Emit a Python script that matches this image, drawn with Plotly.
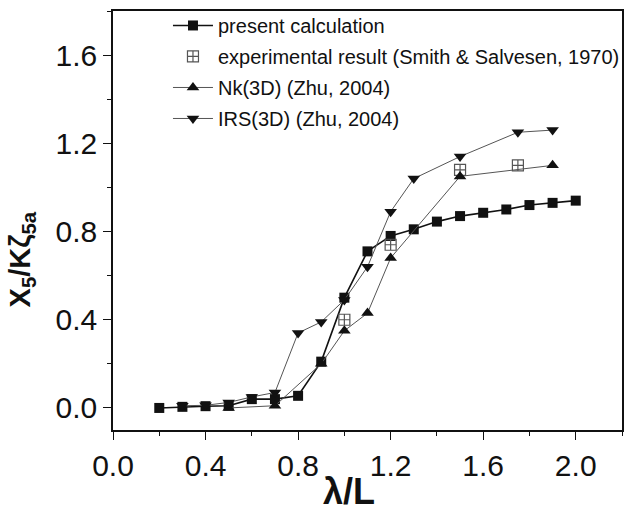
import plotly.graph_objects as go

# ---- data ----
present_x = [0.2, 0.3, 0.4, 0.5, 0.6, 0.7, 0.8, 0.9, 1.0, 1.1, 1.2, 1.3, 1.4, 1.5, 1.6, 1.7, 1.8, 1.9, 2.0]
present_y = [0.0, 0.005, 0.008, 0.01, 0.04, 0.04, 0.055, 0.21, 0.50, 0.71, 0.78, 0.81, 0.845, 0.87, 0.885, 0.90, 0.92, 0.93, 0.94]

exp_x = [1.0, 1.2, 1.5, 1.75]
exp_y = [0.40, 0.74, 1.08, 1.10]

nk_x = [0.5, 0.7, 0.9, 1.0, 1.1, 1.2, 1.5, 1.9]
nk_y = [0.0, 0.01, 0.20, 0.35, 0.43, 0.68, 1.05, 1.10]

irs_x = [0.3, 0.4, 0.5, 0.6, 0.7, 0.8, 0.9, 1.0, 1.1, 1.2, 1.3, 1.5, 1.75, 1.9]
irs_y = [0.01, 0.012, 0.025, 0.05, 0.07, 0.34, 0.39, 0.49, 0.64, 0.89, 1.04, 1.14, 1.25, 1.26]

x_ticks = [0.0, 0.4, 0.8, 1.2, 1.6, 2.0]
y_ticks = [0.0, 0.4, 0.8, 1.2, 1.6]

FONT = "Liberation Sans, Arial, sans-serif"
INK = "#111111"

fig = go.Figure()
fig.add_trace(go.Scatter(x=present_x, y=present_y, mode="lines+markers",
                         name="present calculation", legendgroup="a",
                         line=dict(color=INK, width=1.6),
                         marker=dict(symbol="square", size=10, color=INK)))
fig.add_trace(go.Scatter(x=exp_x, y=exp_y, mode="markers",
                         name="experimental result (Smith & Salvesen, 1970)", legendgroup="b",
                         marker=dict(symbol="square-cross-open", size=11, color="#555555",
                                     line=dict(width=1.2))))
fig.add_trace(go.Scatter(x=nk_x, y=nk_y, mode="lines+markers",
                         name="Nk(3D) (Zhu, 2004)", legendgroup="c",
                         line=dict(color="#555555", width=1),
                         marker=dict(symbol="triangle-up", size=11, color=INK)))
fig.add_trace(go.Scatter(x=irs_x, y=irs_y, mode="lines+markers",
                         name="IRS(3D) (Zhu, 2004)", legendgroup="d",
                         line=dict(color="#555555", width=1),
                         marker=dict(symbol="triangle-down", size=11, color=INK)))

axis_common = dict(showgrid=False, zeroline=False, showline=True, linecolor=INK,
                   linewidth=1.5, mirror=True, ticks="outside", ticklen=8, tickwidth=1.2,
                   tickcolor=INK, tickfont=dict(family=FONT, size=30, color=INK))

fig.update_xaxes(range=[0, 2.2], tickvals=x_ticks, ticktext=[f"{v:.1f}" for v in x_ticks],
                 minor=dict(ticks="outside", ticklen=4, dtick=0.2, tick0=0, tickcolor=INK),
                 **axis_common)
fig.update_yaxes(range=[-0.1, 1.8], tickvals=y_ticks, ticktext=[f"{v:.1f}" for v in y_ticks],
                 minor=dict(ticks="outside", ticklen=4, dtick=0.2, tick0=0, tickcolor=INK),
                 **axis_common)

# axis titles as annotations for precise placement
fig.add_annotation(text="<b>λ/L</b>", xref="paper", yref="paper", x=0.463, y=-0.146,
                   xanchor="center", yanchor="middle", showarrow=False,
                   font=dict(family=FONT, size=36, color=INK))
fig.add_annotation(text="<b>X<sub>5</sub>/Kζ<sub>5a</sub></b>", xref="paper", yref="paper",
                   x=-0.178, y=0.408, xanchor="center", yanchor="middle", showarrow=False,
                   textangle=-90, font=dict(family=FONT, size=29, color=INK))

fig.update_layout(
    width=631, height=511,
    margin=dict(l=113, r=8, t=6, b=81),
    paper_bgcolor="white", plot_bgcolor="white",
    legend=dict(x=0.108, y=1.012, xanchor="left", yanchor="top",
                bgcolor="rgba(0,0,0,0)", borderwidth=0,
                font=dict(family=FONT, size=20, color=INK),
                tracegroupgap=2, itemwidth=40),
    showlegend=True,
)

fig.write_html("out.html")
